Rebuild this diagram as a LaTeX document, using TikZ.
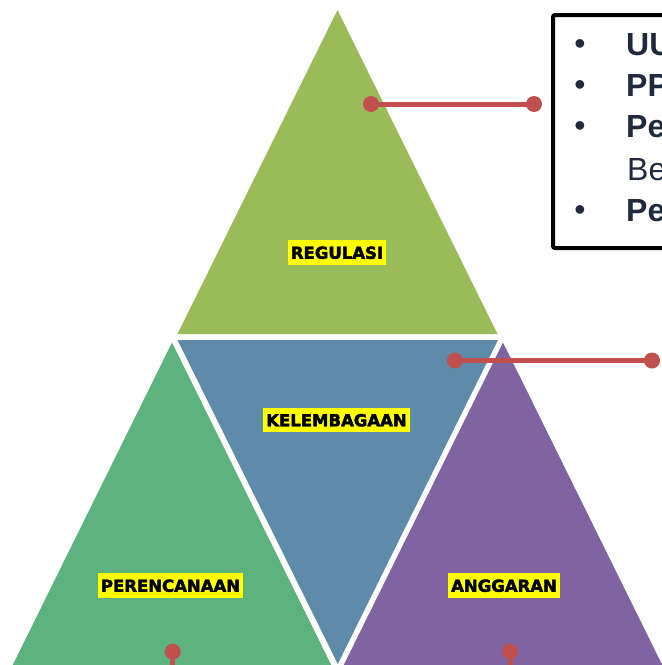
\documentclass[tikz,border=0pt]{standalone}
\usepackage{fontspec}
\setmainfont{Liberation Sans}
\newfontfamily\labelfont{DejaVu Sans Bold}[FakeBold=2.6]
\definecolor{topgreen}{HTML}{9BBB59}
\definecolor{midblue}{HTML}{5F8BAB}
\definecolor{leftgreen}{HTML}{5DB37E}
\definecolor{rightpurple}{HTML}{8064A2}
\definecolor{conred}{HTML}{C0504D}
\definecolor{labelyellow}{HTML}{FFFF00}
\definecolor{navytext}{HTML}{1F2B3D}
\tikzset{
  lbl/.style={fill=labelyellow, text=black, font=\labelfont\fontsize{16.5}{16.5}\selectfont,
    inner xsep=3pt, inner ysep=6pt, text height=12.5pt, text depth=0pt},
  conline/.style={draw=conred, line width=5pt},
  condot/.style={fill=conred},
  txt/.style={text=navytext, font=\fontsize{32}{38}\selectfont, inner sep=0pt},
  frame/.style={draw=black, line width=4pt, rounded corners=2pt}
}
\begin{document}
\begin{tikzpicture}[x=1pt,y=-1pt]
\useasboundingbox (0,0) rectangle (662,665);
\clip (0,0) rectangle (662,665);
% triangles
\fill[topgreen] (337.5,10) -- (177.5,334) -- (497.5,334) -- cycle;
\fill[midblue] (177.5,340) -- (498,340) -- (337.8,664) -- cycle;
\fill[leftgreen] (172,342.5) -- (332,666.5) -- (12,666.5) -- cycle;
\fill[rightpurple] (503,342.5) -- (663,666.5) -- (343,666.5) -- cycle;
% labels
\node[lbl] (reg) at (337,252.5) {REGULASI};
\node[lbl] (kel) at (336.5,420) {KELEMBAGAAN};
\node[lbl] (per) at (170.5,585.5) {PERENCANAAN};
\node[lbl] (ang) at (504,585.5) {ANGGARAN};
% connectors
\coordinate (c1a) at (371,104);
\coordinate (c1b) at (534,104);
\coordinate (c2a) at (455,360.5);
\coordinate (c2b) at (652,360.5);
\coordinate (c3a) at (172.7,651.7);
\coordinate (c3b) at (172.7,690);
\coordinate (c4a) at (510,651.7);
\coordinate (c4b) at (510,690);
\draw[conline] (c1a) -- (c1b);
\draw[conline] (c2a) -- (c2b);
\draw[conline] (c3a) -- (c3b);
\draw[conline] (c4a) -- (c4b);
\foreach \c in {c1a,c1b,c2a,c2b,c3a,c4a} \fill[condot] (\c) circle[radius=8pt];
% text box
\draw[frame] (553,15) rectangle (720,248);
\node[txt, anchor=base] (b1) at (580,54) {•};
\node[txt, anchor=base west] (t1) at (626,55) {\bfseries UU};
\node[txt, anchor=base] (b2) at (580,95) {•};
\node[txt, anchor=base west] (t2) at (626,96) {\bfseries PP};
\node[txt, anchor=base] (b3) at (580,136) {•};
\node[txt, anchor=base west] (t3) at (626,137) {\bfseries Pe};
\node[txt, anchor=base west] (t4) at (627,180) {Be};
\node[txt, anchor=base] (b5) at (580,220) {•};
\node[txt, anchor=base west] (t5) at (626,221) {\bfseries Pe};
\end{tikzpicture}
\end{document}
